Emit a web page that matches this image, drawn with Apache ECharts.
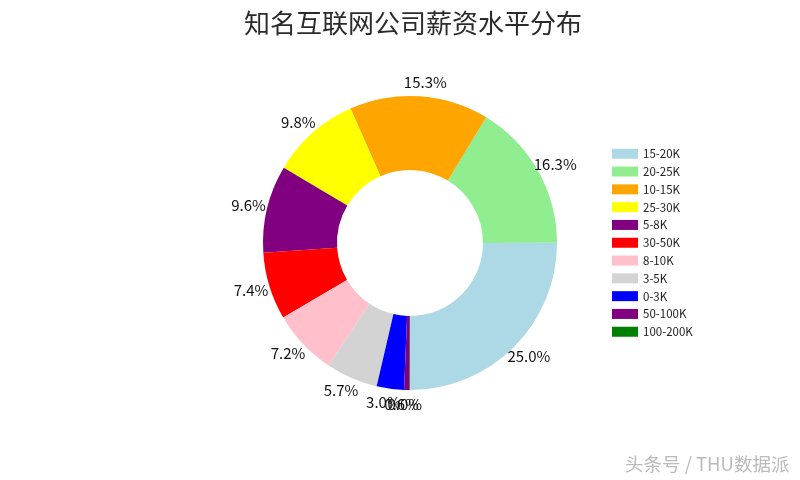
<!DOCTYPE html>
<html>
<head>
<meta charset="utf-8">
<script src="https://cdn.jsdelivr.net/npm/echarts@6/dist/echarts.min.js"></script>
<style>
  html, body { margin: 0; padding: 0; background: #fff; }
  #chart { width: 800px; height: 480px; }
</style>
</head>
<body>
<div id="chart"></div>
<script>
// salary bands, in the order they are drawn (counter-clockwise from the bottom)
const categories = ["15-20K", "20-25K", "10-15K", "25-30K", "5-8K", "30-50K", "8-10K", "3-5K", "0-3K", "50-100K", "100-200K"];
const shares = [25.0, 16.3, 15.3, 9.8, 9.6, 7.4, 7.2, 5.7, 3.0, 0.6, 0.04];
const colors = ["#add8e6", "#90ee90", "#ffa500", "#ffff00", "#800080", "#ff0000", "#ffc0cb", "#d3d3d3", "#0000ff", "#800080", "#008000"];

const font = "'Noto Sans CJK SC', 'DejaVu Sans', sans-serif";

const chart = echarts.init(document.getElementById("chart"));

chart.setOption({
  animation: false,
  backgroundColor: "#fff",
  title: {
    text: "知名互联网公司薪资水平分布",
    left: 408,
    textAlign: "center",
    top: 5,
    textStyle: { fontFamily: font, fontSize: 26, fontWeight: "normal", color: "#2b2b2b" }
  },
  legend: {
    orient: "vertical",
    left: 607,
    top: 143,
    itemWidth: 26,
    itemHeight: 10,
    itemGap: 6.3,
    icon: "rect",
    data: categories,
    textStyle: { fontFamily: font, fontSize: 11.5, color: "#222" }
  },
  graphic: [{
    type: "text",
    left: 625,
    top: 455,
    style: {
      text: "头条号 / THU数据派", fill: "#bbb", font: "18.5px " + font,
      shadowColor: "rgba(0,0,0,0.35)", shadowBlur: 1, shadowOffsetX: 1, shadowOffsetY: 1
    }
  }],
  series: [{
    type: "pie",
    center: [410, 243],
    radius: [73, 147],
    startAngle: 270,
    clockwise: false,
    avoidLabelOverlap: false,
    label: {
      show: true,
      position: "outside",
      fontFamily: font,
      fontSize: 15,
      color: "#111",
      formatter: p => p.value.toFixed(1) + "%"
    },
    labelLine: { show: false, length: 14, length2: 0 },
    labelLayout: { hideOverlap: false, align: "center", verticalAlign: "middle" },
    emphasis: { disabled: true },
    data: categories.map((c, i) => ({ name: c, value: shares[i], itemStyle: { color: colors[i] } }))
  }]
});
</script>
</body>
</html>
